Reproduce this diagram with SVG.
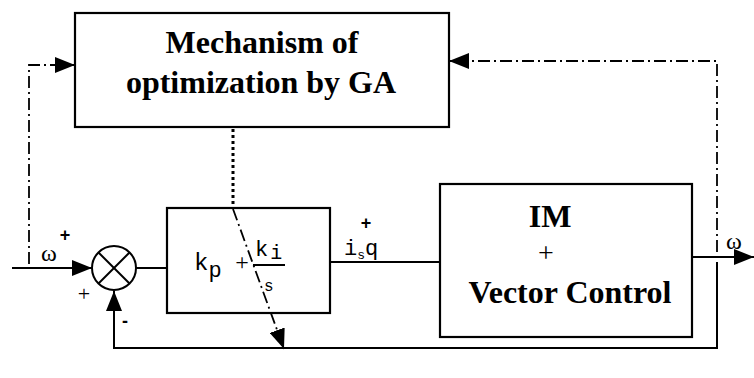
<svg xmlns="http://www.w3.org/2000/svg" width="754" height="378" viewBox="0 0 754 378">
<style>
.box{fill:#fff;stroke:#000;stroke-width:2.2}
.ln{fill:none;stroke:#000;stroke-width:2}
.dd{fill:none;stroke:#000;stroke-width:1.8;stroke-dasharray:12 4 2 4}
.dot{fill:none;stroke:#000;stroke-width:3;stroke-dasharray:3 3}
.big{font-family:"Liberation Serif","Tinos","Times New Roman","DejaVu Serif",serif;font-weight:bold;font-size:32px;fill:#000;text-anchor:middle}
.ser{font-family:"Liberation Serif","Tinos","Times New Roman","DejaVu Serif",serif;fill:#000}
.mono{font-family:"Liberation Mono","Cousine","Courier New","DejaVu Sans Mono",monospace;fill:#000}
.star{font-family:"Liberation Sans",Arial,sans-serif;font-weight:bold;font-size:18px;fill:#000;text-anchor:middle}
</style>
<defs>
<marker id="ah" viewBox="0 0 20 16" refX="20" refY="8" markerWidth="20" markerHeight="16" markerUnits="userSpaceOnUse" orient="auto">
<path d="M0,0 L20,8 L0,16 Z" fill="#000"/>
</marker>
</defs>
<rect width="754" height="378" fill="#fff"/>
<g id="sum">
<circle cx="114" cy="268" r="22" fill="#fff" stroke="#000" stroke-width="2"/>
<line class="ln" x1="98.5" y1="252.5" x2="129.5" y2="283.5"/>
<line class="ln" x1="129.5" y1="252.5" x2="98.5" y2="283.5"/>
<text class="ser" x="84" y="301" font-size="22" text-anchor="middle">+</text>
<text class="star" x="125" y="327">-</text>
</g>
<g id="ga">
<rect class="box" x="75" y="13" width="374" height="114"/>
<text class="big" x="262" y="53">Mechanism of</text>
<text class="big" x="261" y="93">optimization by GA</text>
</g>
<g id="pi">
<rect class="box" x="167" y="208" width="163" height="105"/>
<text class="mono" x="194" y="270" font-size="24">k<tspan font-size="22" dy="7">p</tspan></text>
<text class="ser" x="242" y="270" font-size="24" text-anchor="middle">+</text>
<text class="mono" x="255" y="256" font-size="22">k<tspan font-size="20" dx="2" dy="3">i</tspan></text>
<line x1="253" y1="265" x2="285" y2="265" stroke="#000" stroke-width="2"/>
<text class="mono" x="264" y="291" font-size="16">s</text>
</g>
<g id="im">
<rect class="box" x="440" y="184" width="252" height="153"/>
<text class="big" x="550" y="227">IM</text>
<text class="ser" x="546" y="262" font-size="28" text-anchor="middle">+</text>
<text class="big" x="570" y="303">Vector Control</text>
</g>
<g id="labels">
<text class="ser" x="49" y="261" font-size="24" text-anchor="middle">ω</text>
<text class="star" x="65" y="241">+</text>
<text class="mono" x="344" y="255" font-size="22">i<tspan font-size="13" dy="4">s</tspan><tspan dy="-4">q</tspan></text>
<text class="star" x="366" y="229">+</text>
<text class="ser" x="734" y="249" font-size="24" text-anchor="middle">ω</text>
</g>
<g id="connectors">
<line class="ln" x1="12" y1="268" x2="92" y2="268" marker-end="url(#ah)"/>
<line class="ln" x1="136" y1="268" x2="167" y2="268"/>
<line class="ln" x1="330" y1="262" x2="440" y2="262"/>
<line class="ln" x1="692" y1="257" x2="754" y2="257" marker-end="url(#ah)"/>
<polyline class="ln" points="717,262 717,348 114,348 114,291" marker-end="url(#ah)"/>
<polyline class="dd" points="717,252 717,61 449,61" marker-end="url(#ah)"/>
<polyline class="dd" points="29,264 29,65 75,65" marker-end="url(#ah)"/>
<line class="dot" x1="233" y1="129" x2="233" y2="207"/>
<line class="dd" x1="233" y1="209" x2="284" y2="349" marker-end="url(#ah)"/>
</g>
</svg>
